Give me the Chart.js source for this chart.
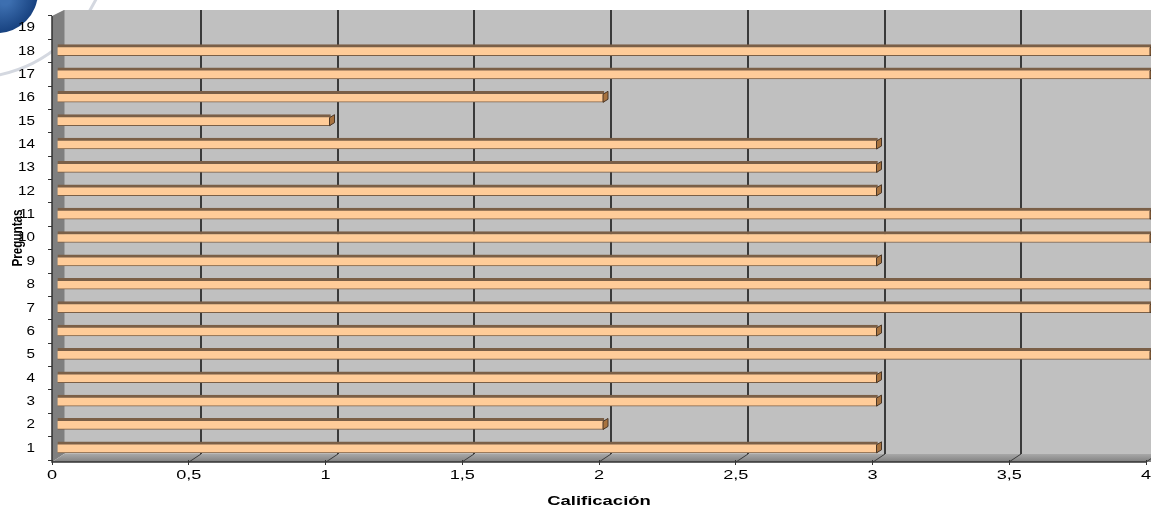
<!DOCTYPE html>
<html>
<head>
<meta charset="utf-8">
<script src="https://cdn.jsdelivr.net/npm/chart.js@4"></script>
<style>
  html, body { margin: 0; padding: 0; background: #fff; }
  #wrap { width: 1151px; height: 510px; }
</style>
</head>
<body>
<div id="wrap"><canvas id="chartCanvas" width="1151" height="510"></canvas></div>
<script>
// Datos del gráfico
const preguntas = ['1', '2', '3', '4', '5', '6', '7', '8', '9', '10',
                   '11', '12', '13', '14', '15', '16', '17', '18', '19'];
const calificaciones = [3, 2, 3, 3, 4, 3, 4, 4, 3, 4, 4, 3, 3, 3, 1, 2, 4, 4, null];
const xTickLabels = ['0', '0,5', '1', '1,5', '2', '2,5', '3', '3,5', '4'];
const tituloX = 'Calificación';
const tituloY = 'Preguntas';

// Profundidad del efecto 3D
const DX = 12, DY = 6;
const FONT = 'Liberation Sans, Arial, sans-serif';

// texto estirado en horizontal (el original está ensanchado)
function drawText(ctx, txt, x, y, sx, align, font, rot) {
  ctx.save();
  ctx.translate(x, y);
  if (rot) ctx.rotate(rot);
  ctx.scale(sx, 1);
  ctx.font = font;
  ctx.fillStyle = '#000';
  ctx.textAlign = align;
  ctx.textBaseline = 'middle';
  ctx.fillText(txt, 0, 0);
  ctx.restore();
}

// Paredes, piso, rejilla desplazada, textos y logo de la esquina
const wall3d = {
  id: 'wall3d',
  beforeDraw(chart) {
    const { ctx, chartArea: a } = chart;
    const L = a.left, T = a.top, B = a.bottom, R = chart.width;
    ctx.save();
    // logo (esfera azul + arco gris)
    const g = ctx.createRadialGradient(5, 0, 5, -3, -8, 42);
    g.addColorStop(0, '#3d6fb0');
    g.addColorStop(1, '#16407e');
    ctx.fillStyle = g;
    ctx.beginPath(); ctx.arc(-3, -8, 41, 0, Math.PI * 2); ctx.fill();
    ctx.strokeStyle = '#d4d8e0'; ctx.lineWidth = 3;
    ctx.beginPath(); ctx.arc(-30, -62, 140, 0.25, 1.45); ctx.stroke();

    // pared del fondo
    ctx.fillStyle = '#c0c0c0';
    ctx.fillRect(L + DX, T - DY, R - L - DX, B - T);
    // pared lateral
    ctx.fillStyle = '#7f7f7f';
    ctx.beginPath();
    ctx.moveTo(L, T); ctx.lineTo(L + DX, T - DY); ctx.lineTo(L + DX, B - DY); ctx.lineTo(L, B + 2);
    ctx.closePath(); ctx.fill();
    // piso
    const fg = ctx.createLinearGradient(0, B - DY, 0, B + 2);
    fg.addColorStop(0, '#a8a8a8');
    fg.addColorStop(1, '#808080');
    ctx.fillStyle = fg;
    ctx.beginPath();
    ctx.moveTo(L, B + 2); ctx.lineTo(L + DX, B - DY); ctx.lineTo(R, B - DY); ctx.lineTo(R, B + 2);
    ctx.closePath(); ctx.fill();
    ctx.strokeStyle = '#a0a0a0'; ctx.lineWidth = 1;
    ctx.beginPath(); ctx.moveTo(L + DX + 0.5, T - DY); ctx.lineTo(L + DX + 0.5, B - DY); ctx.stroke();
    ctx.restore();
  },
  beforeDatasetsDraw(chart) {
    const { ctx, chartArea: a, scales } = chart;
    const x = scales.x;
    const T = a.top, B = a.bottom;
    ctx.save();
    ctx.strokeStyle = '#3a3a3a';
    x.ticks.forEach((t, i) => {
      if (i === 0) return;
      const px = Math.round(x.getPixelForValue(t.value));
      ctx.lineWidth = 2;
      ctx.beginPath(); ctx.moveTo(px + DX, T - DY); ctx.lineTo(px + DX, B - DY); ctx.stroke();
      ctx.lineWidth = 1;
      ctx.beginPath(); ctx.moveTo(px + DX, B - DY); ctx.lineTo(px, B + 2); ctx.stroke();
    });
    // ejes
    ctx.strokeStyle = '#333';
    ctx.lineWidth = 1.5;
    ctx.beginPath(); ctx.moveTo(a.left, T); ctx.lineTo(a.left, B + 2); ctx.lineTo(a.right, B + 2); ctx.stroke();
    ctx.restore();
    // barras un poco desplazadas hacia el fondo
    ctx.save();
    ctx.translate(5, -1);
  },
  afterDatasetsDraw(chart) {
    const { ctx } = chart;
    const meta = chart.getDatasetMeta(0);
    meta.data.forEach((el, i) => {
      if (calificaciones[i] == null) return;
      const top = el.y - el.height / 2, bot = el.y + el.height / 2;
      ctx.fillStyle = '#a8733f';
      ctx.strokeStyle = '#4a3626';
      ctx.lineWidth = 1;
      ctx.beginPath();
      ctx.moveTo(el.x - 1, top + 3); ctx.lineTo(el.x + 4, top); ctx.lineTo(el.x + 4, bot - 3); ctx.lineTo(el.x - 1, bot);
      ctx.closePath(); ctx.fill(); ctx.stroke();
    });
    ctx.restore();
  },
  afterDraw(chart) {
    const { ctx, chartArea: a, scales } = chart;
    const x = scales.x, y = scales.y;
    x.ticks.forEach((t, i) => {
      drawText(ctx, xTickLabels[i], x.getPixelForValue(t.value), a.bottom + 16, 1.45, 'center', '12.5px ' + FONT);
    });
    preguntas.forEach((p, i) => {
      drawText(ctx, p, a.left - 17, y.getPixelForValue(i), 1.22, 'right', '12.5px ' + FONT);
    });
    drawText(ctx, tituloX, (a.left + a.right) / 2, a.bottom + 41, 1.42, 'center', 'bold 13px ' + FONT);
    drawText(ctx, tituloY, 18, (a.top + a.bottom) / 2, 0.78, 'center', 'bold 15px ' + FONT, -Math.PI / 2);
  }
};

const chartCanvas = document.getElementById('chartCanvas');
const myChart = new Chart(chartCanvas, {
  type: 'bar',
  data: {
    labels: preguntas,
    datasets: [{
      label: tituloX,
      data: calificaciones,
      backgroundColor: '#ffcc99',
      borderColor: '#7a5f47',
      borderWidth: { top: 3, bottom: 1, right: 1, left: 0 },
      borderSkipped: 'start',
      barThickness: 11
    }]
  },
  options: {
    indexAxis: 'y',
    responsive: false,
    animation: false,
    devicePixelRatio: 1,
    layout: { padding: { top: 16, right: 5, left: 0, bottom: 0 } },
    plugins: {
      legend: { display: false },
      tooltip: { enabled: false }
    },
    scales: {
      x: {
        min: 0, max: 4,
        ticks: { stepSize: 0.5, display: false },
        grid: { drawOnChartArea: false, tickLength: 5, color: '#333' },
        border: { display: false },
        afterFit(scale) { scale.height = 50; }
      },
      y: {
        reverse: true,
        ticks: { display: false },
        grid: { drawOnChartArea: false, tickLength: 4, color: '#333' },
        border: { display: false },
        afterFit(scale) { scale.width = 52; }
      }
    }
  },
  plugins: [wall3d]
});
</script>
</body>
</html>
